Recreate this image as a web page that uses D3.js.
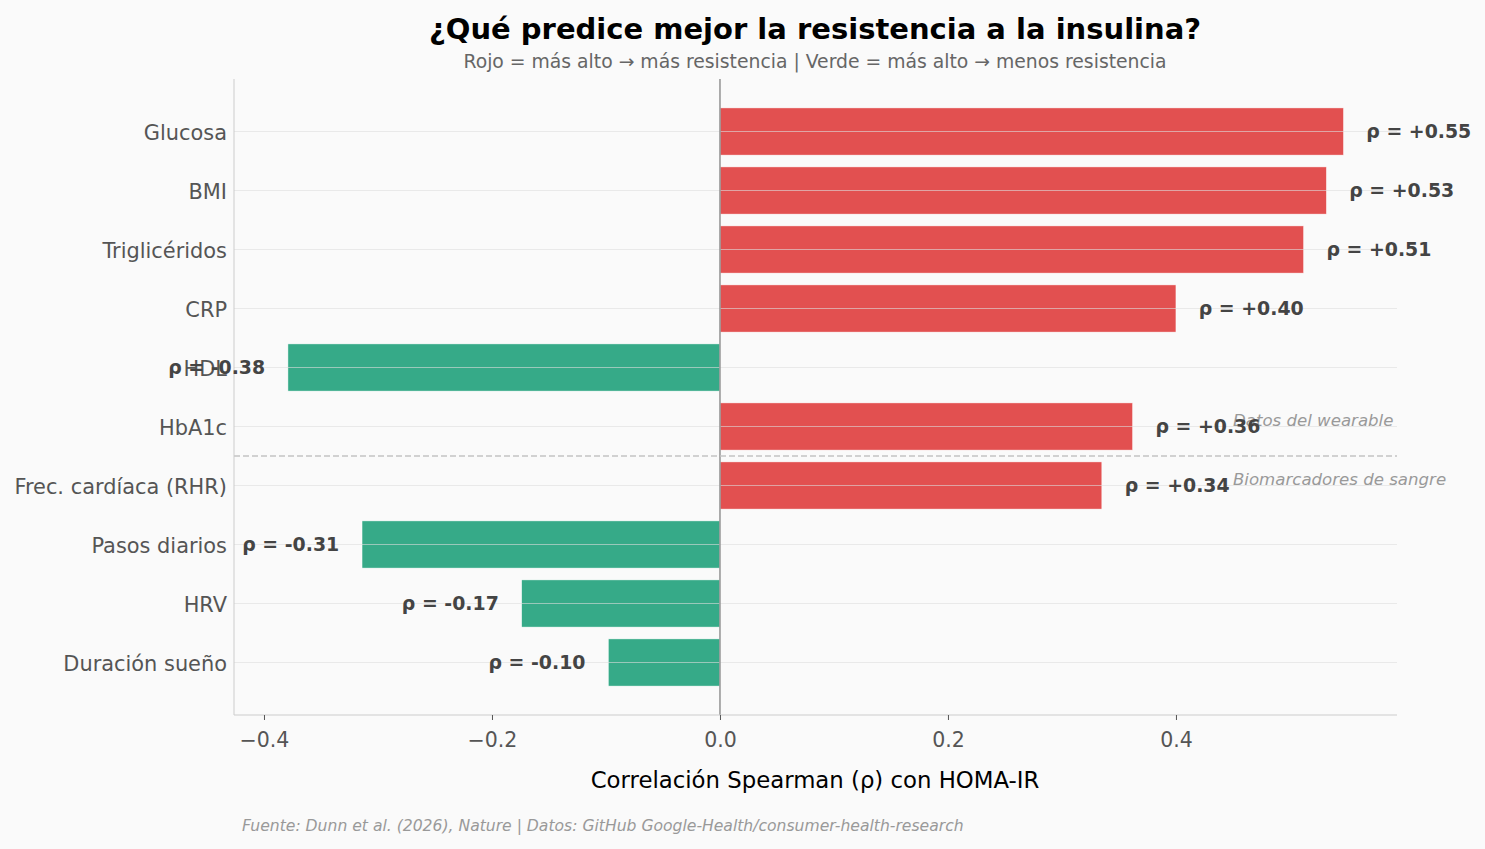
<!DOCTYPE html>
<html>
<head>
<meta charset="utf-8">
<script src="https://cdn.jsdelivr.net/npm/d3@7"></script>
<style>
  body { margin: 0; background: #fafafa; }
  text { font-family: "DejaVu Sans", sans-serif; }
</style>
</head>
<body>
<div id="root"></div>
<script>
var width = 1485;
var height = 849;

// data, top to bottom
var categories = ["Glucosa", "BMI", "Triglicéridos", "CRP", "HDL", "HbA1c",
  "Frec. cardíaca (RHR)", "Pasos diarios", "HRV", "Duración sueño"];
var rhoValues = [0.547, 0.532, 0.512, 0.40, -0.379, 0.362, 0.335, -0.314, -0.174, -0.098];
var rhoLabels = ["+0.55", "+0.53", "+0.51", "+0.40", "-0.38", "+0.36", "+0.34", "-0.31", "-0.17", "-0.10"];
var xTicks = [-0.4, -0.2, 0.0, 0.2, 0.4];
var groupNames = ["Datos del wearable", "Biomarcadores de sangre"];

var plotLeft = 234, plotRight = 1397, plotTop = 79, plotBottom = 715;

var svg = d3.select("#root").append("svg")
  .attr("width", width)
  .attr("height", height)
  .style("background", "#fafafa");

var xScale = d3.scaleLinear().domain([-0.4263, 0.5939]).range([plotLeft, plotRight]);
// index scale, matplotlib style margins
var yScale = d3.scaleLinear().domain([-0.89, 9.89]).range([plotTop, plotBottom]);
var barH = 0.8 * (yScale(1) - yScale(0));

// titles
svg.append("text")
  .attr("x", 815).attr("y", 39)
  .attr("text-anchor", "middle")
  .attr("font-size", 29).attr("font-weight", "bold")
  .style("fill", "#000")
  .text("¿Qué predice mejor la resistencia a la insulina?");
svg.append("text")
  .attr("x", 815).attr("y", 68)
  .attr("text-anchor", "middle")
  .attr("font-size", 18.8)
  .style("fill", "#666")
  .text("Rojo = más alto → más resistencia | Verde = más alto → menos resistencia");

// bars
svg.selectAll(".bar")
  .data(rhoValues)
  .enter()
  .append("rect")
  .attr("class", "bar")
  .attr("x", (d) => xScale(Math.min(0, d)))
  .attr("y", (d, i) => yScale(i) - barH / 2)
  .attr("width", (d) => Math.abs(xScale(d) - xScale(0)))
  .attr("height", barH)
  .attr("fill", (d) => (d > 0 ? "#e25050" : "#36aa88"))
  .attr("stroke", "#fff")
  .attr("stroke-width", 0.5);

// grid on top of bars
svg.selectAll(".grid")
  .data(categories)
  .enter()
  .append("line")
  .attr("class", "grid")
  .attr("x1", plotLeft).attr("x2", plotRight)
  .attr("y1", (d, i) => yScale(i)).attr("y2", (d, i) => yScale(i))
  .style("stroke", "#ddd")
  .style("stroke-opacity", 0.6)
  .style("stroke-width", 1);

// zero line
svg.append("line")
  .attr("x1", xScale(0)).attr("x2", xScale(0))
  .attr("y1", plotTop).attr("y2", plotBottom)
  .style("stroke", "#999")
  .style("stroke-width", 1.6);

// separator between groups
svg.append("line")
  .attr("x1", plotLeft).attr("x2", plotRight)
  .attr("y1", yScale(5.5)).attr("y2", yScale(5.5))
  .style("stroke", "#c4c4c4")
  .style("stroke-width", 1.5)
  .style("stroke-dasharray", "6,3");

svg.selectAll(".group-label")
  .data(groupNames)
  .enter()
  .append("text")
  .attr("class", "group-label")
  .attr("x", xScale(0.45))
  .attr("y", (d, i) => yScale(i === 0 ? 5 : 6))
  .attr("font-size", 16.6)
  .attr("font-style", "italic")
  .style("fill", "#999")
  .text((d) => d);

// spines
svg.append("line")
  .attr("x1", plotLeft).attr("x2", plotLeft).attr("y1", plotTop).attr("y2", plotBottom)
  .style("stroke", "#ccc");
svg.append("line")
  .attr("x1", plotLeft).attr("x2", plotRight).attr("y1", plotBottom).attr("y2", plotBottom)
  .style("stroke", "#ccc");

// category labels
svg.selectAll(".cat")
  .data(categories)
  .enter()
  .append("text")
  .attr("class", "cat")
  .attr("x", plotLeft - 7)
  .attr("y", (d, i) => yScale(i) + 1.5)
  .attr("dy", "0.35em")
  .attr("text-anchor", "end")
  .attr("font-size", 20.9)
  .style("fill", "#555")
  .text((d) => d);

// x axis
var xAxis = d3.axisBottom(xScale)
  .tickValues(xTicks)
  .tickSize(5)
  .tickPadding(12)
  .tickFormat((d) => d3.format(".1f")(d).replace("-", "−"));
var gx = svg.append("g")
  .attr("transform", "translate(0," + plotBottom + ")")
  .call(xAxis);
gx.select(".domain").remove();
gx.selectAll(".tick line").style("stroke", "#555");
gx.selectAll(".tick text")
  .attr("font-size", 20.5)
  .attr("font-family", "DejaVu Sans")
  .style("fill", "#555");

svg.append("text")
  .attr("x", 815).attr("y", 788)
  .attr("text-anchor", "middle")
  .attr("font-size", 22.8)
  .style("fill", "#000")
  .text("Correlación Spearman (ρ) con HOMA-IR");

// value labels
svg.selectAll(".val")
  .data(rhoValues)
  .enter()
  .append("text")
  .attr("class", "val")
  .attr("x", (d) => xScale(d > 0 ? d + 0.02 : d - 0.02))
  .attr("y", (d, i) => yScale(i))
  .attr("dy", "0.35em")
  .attr("text-anchor", (d) => (d > 0 ? "start" : "end"))
  .attr("font-size", 18.9)
  .attr("font-weight", "bold")
  .style("fill", "#444")
  .text((d, i) => "ρ = " + rhoLabels[i]);

// footer
svg.append("text")
  .attr("x", 242).attr("y", 831)
  .attr("font-size", 15.6)
  .attr("font-style", "italic")
  .style("fill", "#999")
  .text("Fuente: Dunn et al. (2026), Nature | Datos: GitHub Google-Health/consumer-health-research");
</script>
</body>
</html>
